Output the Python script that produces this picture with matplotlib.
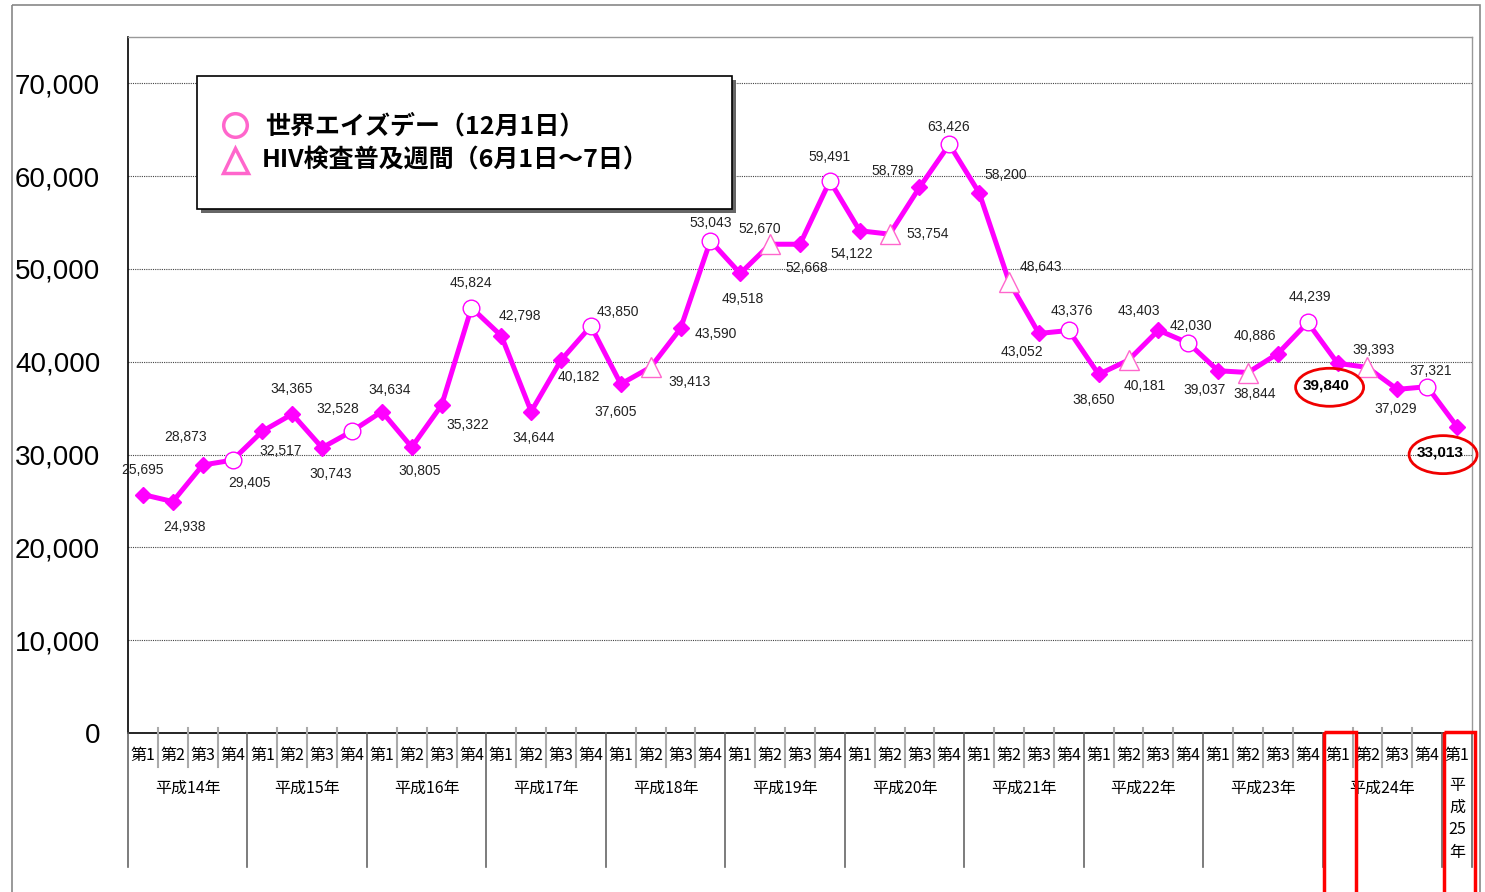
import numpy as np
import matplotlib
matplotlib.use('Agg')
import matplotlib.pyplot as plt
from matplotlib.patches import Rectangle, Ellipse
from matplotlib.ticker import FuncFormatter
from matplotlib.transforms import ScaledTranslation

plt.rcParams['font.family'] = ['Liberation Sans', 'Noto Sans CJK JP']
JP = ['Noto Sans CJK JP', 'DejaVu Sans']

# データ（四半期ごとの件数）
years = ['平成14年', '平成15年', '平成16年', '平成17年', '平成18年', '平成19年',
         '平成20年', '平成21年', '平成22年', '平成23年', '平成24年', '平\n成\n25\n年']
quarters = ['第1', '第2', '第3', '第4']
counts = [25695, 24938, 28873, 29405,
          32517, 34365, 30743, 32528,
          34634, 30805, 35322, 45824,
          42798, 34644, 40182, 43850,
          37605, 39413, 43590, 53043,
          49518, 52670, 52668, 59491,
          54122, 53754, 58789, 63426,
          58200, 48643, 43052, 43376,
          38650, 40181, 43403, 42030,
          39037, 38844, 40886, 44239,
          39840, 39393, 37029, 37321,
          33013]
# d = 通常, o = 世界エイズデー, ^ = HIV検査普及週間
kinds = (['d', 'd', 'd', 'o'] * 4 + ['d', '^', 'd', 'o'] * 7 + ['d'])
highlight = [40, 44]

# ラベル位置（点からのずれ, ピクセル, 下向き正）
label_off = [(0, -25), (12, 25), (-17, -28), (17, 23),
             (18, 20), (-1, -25), (9, 26), (-14, -22),
             (8, -22), (8, 24), (26, 20), (-1, -25),
             (19, -20), (2, 26), (18, 17), (27, -14),
             (-5, 28), (39, 15), (35, 6), (0, -18),
             (2, 26), (-10, -15), (7, 24), (0, -24),
             (-8, 23), (38, 0), (-27, -16), (-1, -17),
             (27, -18), (32, -15), (-17, 19), (3, -19),
             (-5, 26), (16, 26), (-20, -19), (3, -17),
             (-14, 19), (7, 21), (-23, -18), (2, -25),
             (-11, 22), (6, -17), (-2, 20), (3, -16),
             (-17, 26)]

W, H = 1485, 892


def box(l, t, r, b):
    return [l / W, 1 - b / H, (r - l) / W, (b - t) / H]


fig = plt.figure(figsize=(W / 100, H / 100), dpi=100)

ax = fig.add_axes(box(128, 37, 1472, 733))
x = np.arange(len(counts))
c = np.array(counts)
k = np.array(kinds)
ax.set_xlim(-0.5, len(counts) - 0.5)
ax.set_ylim(0, 75000)
ax.set_yticks(range(0, 70001, 10000))
ax.yaxis.set_major_formatter(FuncFormatter(lambda v, p: f'{int(v):,}'))
ax.tick_params(axis='y', length=0, pad=20, labelsize=20)
ax.set_xticks([])
ax.grid(axis='y', ls=(0, (1, 1)), color='#444', lw=0.8)
ax.set_axisbelow(True)
for s in ['left', 'bottom']:
    ax.spines[s].set_color('black')
    ax.spines[s].set_linewidth(1.2)
for s in ['top', 'right']:
    ax.spines[s].set_color('#999999')
    ax.spines[s].set_linewidth(1)

ax.plot(x, c, color='#FF00FF', lw=3.6, zorder=3)
m = k == 'd'
ax.plot(x[m], c[m], 'D', ms=8, color='#FF00FF', ls='none', zorder=4)
m = k == 'o'
ax.plot(x[m], c[m], 'o', ms=12, mfc='white', mec='#FF00FF', mew=1, ls='none', zorder=4)
m = k == '^'
ax.plot(x[m], c[m], '^', ms=14, mfc='white', mec='#FF66CC', mew=1, ls='none', zorder=4)

for i, (v, (dx, dy)) in enumerate(zip(counts, label_off)):
    bold = i in highlight
    ax.annotate(f'{v:,}', (i, v), xytext=(dx, -dy), textcoords='offset pixels',
                ha='center', va='center', fontsize=11 if bold else 10,
                fontweight='bold' if bold else 'normal',
                color='black' if bold else '#222222', zorder=6)
    if bold:
        tr = fig.dpi_scale_trans + ScaledTranslation(i, v, ax.transData)
        ax.add_patch(Ellipse((dx / 100 + 0.03, -dy / 100 - 0.02), 0.68, 0.38, transform=tr,
                             fill=False, ec='#F00000', lw=2, clip_on=False, zorder=7))

# 下の表（四半期・年）
tab = fig.add_axes(box(128, 733, 1472, 867))
tab.set_xlim(-0.5, len(counts) - 0.5)
tab.set_ylim(134, 0)
tab.axis('off')
for i in range(len(counts)):
    tab.text(i, 22, quarters[i % 4], ha='center', va='center', fontsize=11.5, family=JP)
    if i % 4 != 3 and i < len(counts) - 1:
        tab.plot([i + 0.5, i + 0.5], [-5, 34], color='#AAAAAA', lw=1.5, clip_on=False)
bounds = [-0.5] + [4 * j + 3.5 for j in range(len(years) - 1)] + [len(counts) - 0.5]
for b in bounds:
    tab.plot([b, b], [0, 134], color='#666666', lw=1.2, clip_on=False)
for j, y in enumerate(years):
    if '\n' in y:
        tab.text(4 * j, 44, y, ha='center', va='top', fontsize=11.5, family=JP, linespacing=1.4)
    else:
        tab.text(4 * j + 1.5, 55, y, ha='center', va='center', fontsize=11.5, family=JP)
for i in highlight:
    tab.add_patch(Rectangle((i - 0.45, -1), 1.05, 200, fill=False, ec='#FF0000', lw=2.5,
                            clip_on=False, zorder=5))

# 凡例と外枠
ov = fig.add_axes([0, 0, 1, 1])
ov.set_xlim(0, W)
ov.set_ylim(H, 0)
ov.axis('off')
ov.set_zorder(5)
ov.add_patch(Rectangle((12, 5), 1468, 900, fill=False, ec='#888888', lw=1.2))
ov.add_patch(Rectangle((201, 80), 535, 133, fc='#666666', ec='none'))
ov.add_patch(Rectangle((197, 76), 535, 133, fc='white', ec='black', lw=1.2))
ov.plot(235, 125, 'o', ms=17, mfc='white', mec='#FF66CC', mew=2.5)
ov.plot(235, 160, '^', ms=18, mfc='white', mec='#FF66CC', mew=2.5)
ov.text(265, 126, '世界エイズデー（12月1日）', va='center', fontsize=18,
        fontweight='bold', family=JP)
ov.text(262, 161, 'HIV検査普及週間（6月1日～7日）', va='center', fontsize=18,
        fontweight='bold', family=JP)

fig.savefig('out.png', dpi=100)
